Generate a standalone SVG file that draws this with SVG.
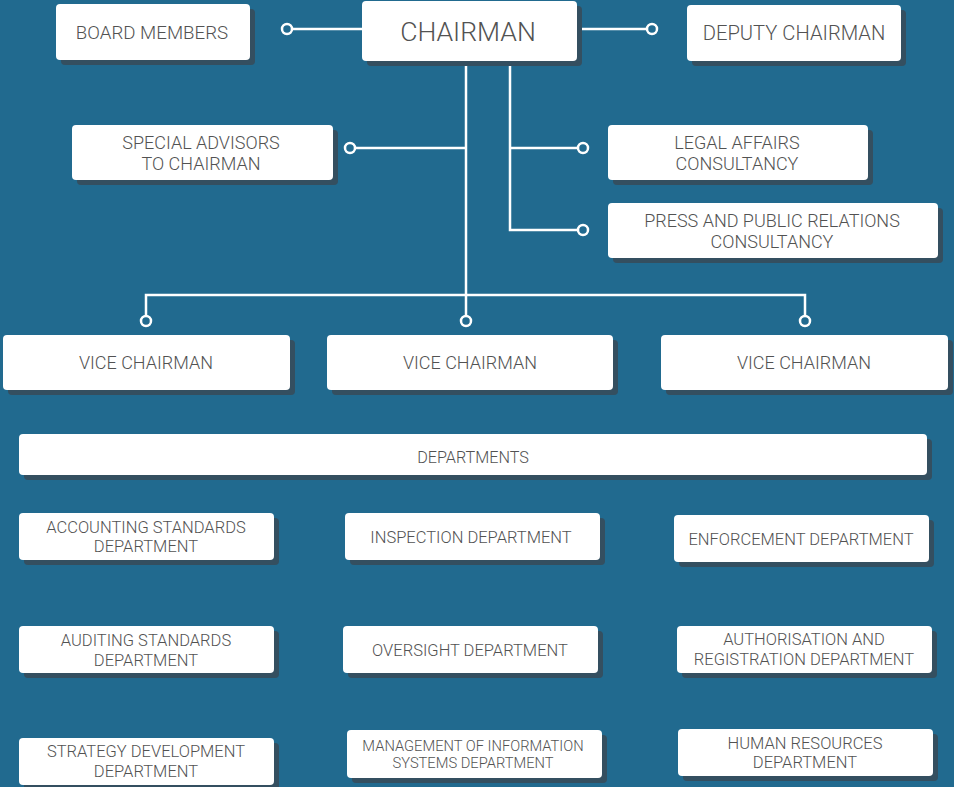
<svg xmlns="http://www.w3.org/2000/svg" width="954" height="787" viewBox="0 0 954 787">
<style>
.bg{fill:#216a8f}
.sh{fill:#344f60}
.bx{fill:#ffffff}
.t{font-family:Roboto,"Liberation Sans",sans-serif;font-weight:300;fill:#525252;text-anchor:middle}
.s1{font-size:18px}
.d{font-size:16.5px}
.ln{stroke:#ffffff;stroke-width:2.5;fill:none}
.dot{stroke:#ffffff;stroke-width:2.5;fill:#216a8f}
</style>
<rect class="bg" x="0" y="0" width="954" height="787"/>
<g id="connectors">
<path class="ln" d="M292 29H362"/>
<path class="ln" d="M577 29H647"/>
<path class="ln" d="M466 61V295"/>
<path class="ln" d="M510 61V230H578"/>
<path class="ln" d="M355 148H466"/>
<path class="ln" d="M510 148H578"/>
<path class="ln" d="M146 316V295H805V316"/>
<path class="ln" d="M466 295V316"/>
<circle class="dot" cx="287" cy="29" r="5"/>
<circle class="dot" cx="652" cy="29" r="5"/>
<circle class="dot" cx="350" cy="148" r="5"/>
<circle class="dot" cx="583" cy="148" r="5"/>
<circle class="dot" cx="583" cy="230" r="5"/>
<circle class="dot" cx="146" cy="321" r="5"/>
<circle class="dot" cx="466" cy="321" r="5"/>
<circle class="dot" cx="805" cy="321" r="5"/>
</g>
<g id="board"><rect class="sh" x="61" y="9" width="194" height="56" rx="4"/><rect class="bx" x="56" y="4" width="194" height="56" rx="4"/><text class="t" x="152" y="39" font-size="18.7">BOARD MEMBERS</text></g>
<g id="chairman"><rect class="sh" x="367" y="6" width="215" height="60" rx="4"/><rect class="bx" x="362" y="1" width="215" height="60" rx="4"/><text class="t" x="468" y="41" font-size="26.6">CHAIRMAN</text></g>
<g id="deputy"><rect class="sh" x="692" y="10" width="214" height="56" rx="4"/><rect class="bx" x="687" y="5" width="214" height="56" rx="4"/><text class="t" x="794" y="40" font-size="20.2">DEPUTY CHAIRMAN</text></g>
<g id="advisors"><rect class="sh" x="77" y="130" width="261" height="55" rx="4"/><rect class="bx" x="72" y="125" width="261" height="55" rx="4"/><text class="t s1" x="201" y="149">SPECIAL ADVISORS</text><text class="t s1" x="201" y="170">TO CHAIRMAN</text></g>
<g id="legal"><rect class="sh" x="613" y="130" width="260" height="55" rx="4"/><rect class="bx" x="608" y="125" width="260" height="55" rx="4"/><text class="t s1" x="737" y="149">LEGAL AFFAIRS</text><text class="t s1" x="737" y="170">CONSULTANCY</text></g>
<g id="press"><rect class="sh" x="613" y="208" width="330" height="55" rx="4"/><rect class="bx" x="608" y="203" width="330" height="55" rx="4"/><text class="t s1" x="772" y="227">PRESS AND PUBLIC RELATIONS</text><text class="t s1" x="772" y="248">CONSULTANCY</text></g>
<g id="vice1"><rect class="sh" x="8" y="340" width="287" height="55" rx="4"/><rect class="bx" x="3" y="335" width="287" height="55" rx="4"/><text class="t s1" x="146" y="369">VICE CHAIRMAN</text></g>
<g id="vice2"><rect class="sh" x="332" y="340" width="286" height="55" rx="4"/><rect class="bx" x="327" y="335" width="286" height="55" rx="4"/><text class="t s1" x="470" y="369">VICE CHAIRMAN</text></g>
<g id="vice3"><rect class="sh" x="666" y="340" width="287" height="55" rx="4"/><rect class="bx" x="661" y="335" width="287" height="55" rx="4"/><text class="t s1" x="804" y="369">VICE CHAIRMAN</text></g>
<g id="departments"><rect class="sh" x="24" y="439" width="908" height="41" rx="4"/><rect class="bx" x="19" y="434" width="908" height="41" rx="4"/><text class="t" x="473" y="463" font-size="16.2">DEPARTMENTS</text></g>
<g id="accounting"><rect class="sh" x="24" y="518" width="255" height="47" rx="4"/><rect class="bx" x="19" y="513" width="255" height="47" rx="4"/><text class="t d" x="146" y="533">ACCOUNTING STANDARDS</text><text class="t d" x="146" y="552">DEPARTMENT</text></g>
<g id="inspection"><rect class="sh" x="350" y="518" width="255" height="47" rx="4"/><rect class="bx" x="345" y="513" width="255" height="47" rx="4"/><text class="t d" x="471" y="543">INSPECTION DEPARTMENT</text></g>
<g id="enforcement"><rect class="sh" x="679" y="520" width="255" height="47" rx="4"/><rect class="bx" x="674" y="515" width="255" height="47" rx="4"/><text class="t d" x="801" y="545">ENFORCEMENT DEPARTMENT</text></g>
<g id="auditing"><rect class="sh" x="24" y="631" width="255" height="47" rx="4"/><rect class="bx" x="19" y="626" width="255" height="47" rx="4"/><text class="t d" x="146" y="646">AUDITING STANDARDS</text><text class="t d" x="146" y="666">DEPARTMENT</text></g>
<g id="oversight"><rect class="sh" x="348" y="631" width="255" height="47" rx="4"/><rect class="bx" x="343" y="626" width="255" height="47" rx="4"/><text class="t d" x="470" y="656">OVERSIGHT DEPARTMENT</text></g>
<g id="authorisation"><rect class="sh" x="682" y="631" width="255" height="47" rx="4"/><rect class="bx" x="677" y="626" width="255" height="47" rx="4"/><text class="t d" x="804" y="645">AUTHORISATION AND</text><text class="t d" x="804" y="665">REGISTRATION DEPARTMENT</text></g>
<g id="strategy"><rect class="sh" x="24" y="743" width="255" height="47" rx="4"/><rect class="bx" x="19" y="738" width="255" height="47" rx="4"/><text class="t d" x="146" y="757">STRATEGY DEVELOPMENT</text><text class="t d" x="146" y="777">DEPARTMENT</text></g>
<g id="mis"><rect class="sh" x="352" y="735" width="255" height="48" rx="4"/><rect class="bx" x="347" y="730" width="255" height="48" rx="4"/><text class="t" x="473" y="751" font-size="14.7">MANAGEMENT OF INFORMATION</text><text class="t" x="473" y="768" font-size="14.7">SYSTEMS DEPARTMENT</text></g>
<g id="hr"><rect class="sh" x="683" y="734" width="255" height="47" rx="4"/><rect class="bx" x="678" y="729" width="255" height="47" rx="4"/><text class="t d" x="805" y="749">HUMAN RESOURCES</text><text class="t d" x="805" y="768">DEPARTMENT</text></g>
</svg>
